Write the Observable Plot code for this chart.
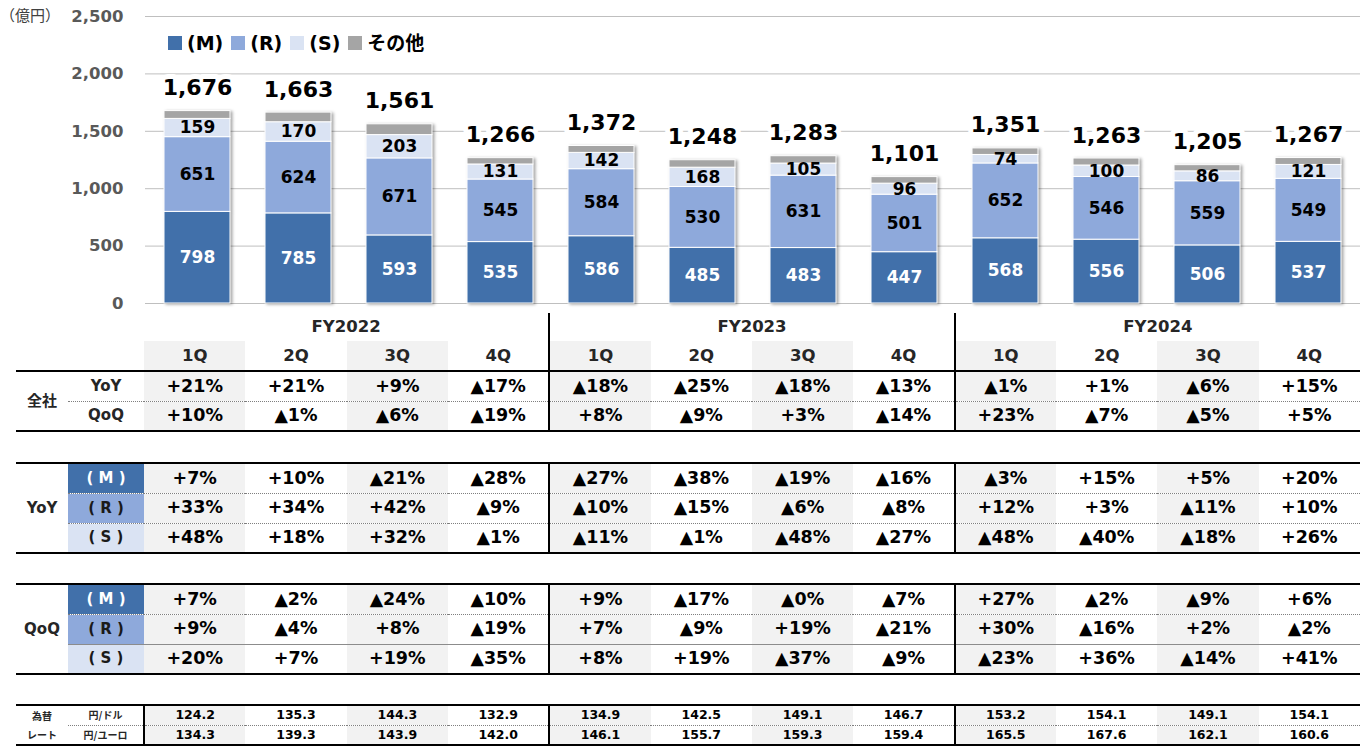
<!DOCTYPE html>
<html><head><meta charset="utf-8">
<script src="https://cdn.jsdelivr.net/npm/d3@7"></script>
<script src="https://cdn.jsdelivr.net/npm/@observablehq/plot@0.6"></script>
<style>
body{margin:0;background:#fff;}
#wrap{position:relative;width:1360px;height:749px;overflow:hidden;font-family:"DejaVu Sans","Noto Sans CJK JP",sans-serif;}
#chart{position:absolute;left:0;top:0;}
#chart g[aria-label="bar"]{filter:drop-shadow(2px 1px 1.5px rgba(0,0,0,0.35));}
.unit{position:absolute;left:0px;top:5px;font-size:15px;color:#404040;font-family:"Noto Sans CJK JP",sans-serif;line-height:20px;}
.legend{position:absolute;left:168px;top:31px;display:flex;align-items:center;font-weight:bold;font-size:19px;color:#000;line-height:24px;}
.legend .it{display:flex;align-items:center;margin-right:8px;}
.legend .sw{display:inline-block;width:14px;height:14px;margin-right:5px;}
table{position:absolute;left:16px;width:1344px;border-collapse:collapse;table-layout:fixed;}
td{padding:0;text-align:center;font-weight:bold;white-space:nowrap;overflow:hidden;line-height:1;font-size:17.5px;color:#000;}
table.body{border-top:2px solid #000;border-bottom:2px solid #000;}
td.g{background:#f2f2f2;}
td.dv{border-left:2px solid #000;}
td.dot{border-bottom:1px dotted #7f7f7f;}
td.sol{border-bottom:1px solid #8c8c8c;}
td.fy{font-size:16.5px;color:#262626;}
td.q{font-size:16.5px;color:#262626;}
td.l0{font-size:15px;color:#262626;}
td.l1{font-size:15px;color:#262626;}
td.box{font-size:15px;}
td.bM{background:#4170AA;color:#fff;}
td.bR{background:#8EA9DB;color:#1a1a1a;}
td.bS{background:#DAE3F3;color:#1a1a1a;}
td.sm{font-size:12.5px;}
td.xs{font-size:10px;font-family:"Noto Sans CJK JP",sans-serif;}
td.vr{border-right:2px solid #000;}
</style>
</head><body>
<div id="wrap"></div>
<script>
// ---- data ----
const fiscalYears = ["FY2022", "FY2023", "FY2024"];
const quarters = ["1Q", "2Q", "3Q", "4Q"];
const segKeys = ["M", "R", "S", "other"];
const segLabels = ["(M)", "(R)", "(S)", "その他"];
const segColors = ["#4170AA", "#8EA9DB", "#DAE3F3", "#A5A5A5"];

const segM = [798, 785, 593, 535, 586, 485, 483, 447, 568, 556, 506, 537];
const segR = [651, 624, 671, 545, 584, 530, 631, 501, 652, 546, 559, 549];
const segS = [159, 170, 203, 131, 142, 168, 105, 96, 74, 100, 86, 121];
const segOther = [68, 84, 94, 55, 60, 65, 64, 57, 57, 61, 54, 60];
const totals = [1676, 1663, 1561, 1266, 1372, 1248, 1283, 1101, 1351, 1263, 1205, 1267];
const yTicks = [0, 500, 1000, 1500, 2000, 2500];

const yoyTotal = ["+21%", "+21%", "+9%", "▲17%", "▲18%", "▲25%", "▲18%", "▲13%", "▲1%", "+1%", "▲6%", "+15%"];
const qoqTotal = ["+10%", "▲1%", "▲6%", "▲19%", "+8%", "▲9%", "+3%", "▲14%", "+23%", "▲7%", "▲5%", "+5%"];
const yoyM = ["+7%", "+10%", "▲21%", "▲28%", "▲27%", "▲38%", "▲19%", "▲16%", "▲3%", "+15%", "+5%", "+20%"];
const yoyR = ["+33%", "+34%", "+42%", "▲9%", "▲10%", "▲15%", "▲6%", "▲8%", "+12%", "+3%", "▲11%", "+10%"];
const yoyS = ["+48%", "+18%", "+32%", "▲1%", "▲11%", "▲1%", "▲48%", "▲27%", "▲48%", "▲40%", "▲18%", "+26%"];
const qoqM = ["+7%", "▲2%", "▲24%", "▲10%", "+9%", "▲17%", "▲0%", "▲7%", "+27%", "▲2%", "▲9%", "+6%"];
const qoqR = ["+9%", "▲4%", "+8%", "▲19%", "+7%", "▲9%", "+19%", "▲21%", "+30%", "▲16%", "+2%", "▲2%"];
const qoqS = ["+20%", "+7%", "+19%", "▲35%", "+8%", "+19%", "▲37%", "▲9%", "▲23%", "+36%", "▲14%", "+41%"];
const fxUSD = [124.2, 135.3, 144.3, 132.9, 134.9, 142.5, 149.1, 146.7, 153.2, 154.1, 149.1, 154.1];
const fxEUR = [134.3, 139.3, 143.9, 142.0, 146.1, 155.7, 159.3, 159.4, 165.5, 167.6, 162.1, 160.6];

// ---- build ----
const periods = fiscalYears.flatMap(fy => quarters.map(q => fy + " " + q));
const segArrays = [segM, segR, segS, segOther];
const rows = periods.flatMap((p, i) => segKeys.map((k, j) => ({period: p, seg: k, value: segArrays[j][i]})));
const totalRows = periods.map((p, i) => ({period: p, total: totals[i]}));
const fmt = d3.format(",");

const chart = Plot.plot({
  width: 1360, height: 313,
  marginLeft: 145, marginRight: 0, marginTop: 16, marginBottom: 10,
  style: {fontFamily: '"DejaVu Sans", sans-serif', background: "transparent", overflow: "visible"},
  x: {type: "band", domain: periods, range: [147, 1359], paddingInner: 0.345, paddingOuter: 0.1725, axis: null},
  y: {domain: [0, 2500], axis: null},
  color: {domain: segKeys, range: segColors},
  marks: [
    Plot.ruleY(yTicks, {stroke: "#bfbfbf", strokeWidth: 1}),
    Plot.axisY(yTicks, {tickSize: 0, tickPadding: 22, tickFormat: fmt, fontSize: 16.5, fontWeight: "bold", fill: "#595959", label: null}),
    Plot.barY(rows, {x: "period", y: "value", fill: "seg", stroke: "white", strokeWidth: 1}),
    Plot.text(rows, Plot.stackY({x: "period", y: "value", z: "seg", text: d => d.seg === "M" ? String(d.value) : null, fill: "white", fontSize: 17, fontWeight: "bold"})),
    Plot.text(rows, Plot.stackY({x: "period", y: "value", z: "seg", text: d => (d.seg === "R" || d.seg === "S") ? String(d.value) : null, fill: "black", fontSize: 17, fontWeight: "bold"})),
    Plot.text(totalRows, {x: "period", y: "total", text: d => fmt(d.total), dy: -23, fontSize: 22, fontWeight: "bold", fill: "black", stroke: "white", strokeWidth: 10, strokeLinejoin: "round", paintOrder: "stroke"})
  ]
});
chart.id = "chart";
const wrap = document.getElementById("wrap");
wrap.appendChild(chart);

// unit label
const unit = document.createElement("div");
unit.className = "unit";
unit.textContent = "（億円）";
wrap.appendChild(unit);

// legend
const leg = document.createElement("div");
leg.className = "legend";
leg.innerHTML = segLabels.map((l, i) => `<span class="it"><span class="sw" style="background:${segColors[i]}"></span>${l}</span>`).join("");
wrap.appendChild(leg);

// tables
const colgroup = `<colgroup><col style="width:52px"><col style="width:76px">${periods.map(() => '<col style="width:101.333px">').join("")}</colgroup>`;
function dataCells(values, extra) {
  return values.map((v, i) => `<td class="v${i % 2 === 0 ? " g" : ""}${(i === 4 || i === 8) ? " dv" : ""}${extra ? " " + extra : ""}">${v}</td>`).join("");
}
let html = "";
html += `<table style="top:313px">${colgroup}
<tr style="height:28px"><td colspan="2"></td>${fiscalYears.map((fy, i) => `<td colspan="4" class="fy${i > 0 ? " dv" : ""}">${fy}</td>`).join("")}</tr>
<tr style="height:30px"><td colspan="2"></td>${dataCells(periods.map((p, i) => quarters[i % 4]), "q")}</tr></table>`;

html += `<table class="body" style="top:370px">${colgroup}
<tr style="height:30px"><td rowspan="2" class="l0">全社</td><td class="l1 dot">YoY</td>${dataCells(yoyTotal, "dot")}</tr>
<tr style="height:30px"><td class="l1">QoQ</td>${dataCells(qoqTotal)}</tr></table>`;

html += `<table class="body" style="top:462px">${colgroup}
<tr style="height:30px"><td rowspan="3" class="l0">YoY</td><td class="box bM dot">( M )</td>${dataCells(yoyM, "dot")}</tr>
<tr style="height:30px"><td class="box bR dot">( R )</td>${dataCells(yoyR, "dot")}</tr>
<tr style="height:30px"><td class="box bS">( S )</td>${dataCells(yoyS)}</tr></table>`;

html += `<table class="body" style="top:583px">${colgroup}
<tr style="height:30px"><td rowspan="3" class="l0">QoQ</td><td class="box bM dot">( M )</td>${dataCells(qoqM, "dot")}</tr>
<tr style="height:30px"><td class="box bR sol">( R )</td>${dataCells(qoqR, "sol")}</tr>
<tr style="height:30px"><td class="box bS">( S )</td>${dataCells(qoqS)}</tr></table>`;

const f1 = d3.format(".1f");
html += `<table class="body" style="top:704px">${colgroup}
<tr style="height:20px"><td class="l0 xs">為替</td><td class="l1 xs dot vr">円/ドル</td>${dataCells(fxUSD.map(f1), "dot sm")}</tr>
<tr style="height:20px"><td class="l0 xs">レート</td><td class="l1 xs vr">円/ユーロ</td>${dataCells(fxEUR.map(f1), "sm")}</tr></table>`;

const tdiv = document.createElement("div");
tdiv.innerHTML = html;
wrap.appendChild(tdiv);
</script>
</body></html>
